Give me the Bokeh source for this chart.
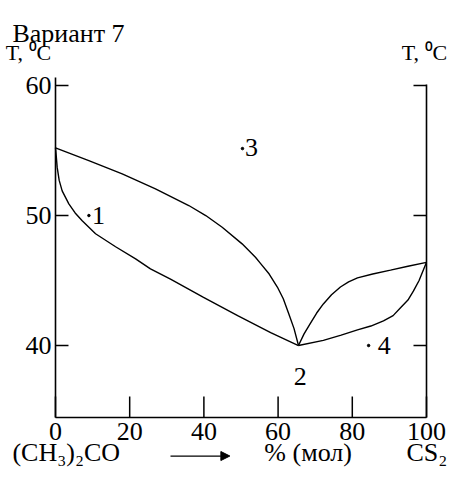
from bokeh.plotting import figure
from bokeh.models import LinearAxis, FixedTicker, Arrow, NormalHead, ColumnDataSource
from bokeh.core.properties import value
from bokeh.embed import file_html
from bokeh.resources import INLINE

FONT = "Liberation Serif"

# --- data (x: % mol CS2, T: deg C) ---
vap_left_x = [0, 8.98, 17.98, 26.95, 35.93, 40.5, 44.93, 50.3, 53.9, 55.3, 57.6, 59.8, 61.4, 62.8, 64.3, 65.5]
vap_left_t = [55.21, 54.23, 53.21, 52.05, 50.77, 50.0, 49.1, 47.82, 46.79, 46.3, 45.5, 44.5, 43.6, 42.5, 41.3, 40.0]
liq_left_x = [0, 0.2, 0.46, 1.0, 1.8, 3.6, 5.3, 7.2, 10.8, 16.2, 21.6, 25.6, 31.0, 39.9, 49.1, 58.0, 65.5]
liq_left_t = [55.21, 54.6, 53.7, 52.7, 51.9, 50.9, 50.2, 49.6, 48.6, 47.6, 46.67, 45.9, 45.1, 43.7, 42.3, 41.0, 40.0]
vap_right_x = [65.5, 67.0, 68.7, 70.4, 72.2, 74.4, 76.8, 79.0, 81.4, 85.5, 90.3, 95.0, 100]
vap_right_t = [40.0, 40.9, 41.7, 42.5, 43.2, 43.9, 44.5, 44.9, 45.2, 45.5, 45.8, 46.1, 46.4]
liq_right_x = [65.5, 72.2, 77.0, 81.4, 85.0, 88.4, 91.0, 93.0, 95.0, 96.5, 98.0, 100]
liq_right_t = [40.0, 40.4, 40.8, 41.2, 41.5, 41.9, 42.3, 42.9, 43.5, 44.2, 45.0, 46.4]

dot_x = [9.0, 50.4, 84.4]
dot_t = [50.0, 55.15, 40.0]
num_x = [11.6, 52.8, 88.6, 66.0]
num_t = [50.0, 55.2, 40.0, 37.6]
num_labels = ["1", "3", "4", "2"]

x_ticks = [0, 20, 40, 60, 80, 100]
t_ticks = [40, 50, 60]
x_min, x_max = 0, 100
t_min = 34.46

title_text = "Вариант 7"
t_axis_text = "T, ⁰C"
left_component = "(CH₃)₂CO"
axis_unit_text = "% (мол)"
right_component = "CS₂"

PX_X = 3.71   # pixels per x unit
PX_T = 13.0   # pixels per degree

# whole canvas is the plot frame; axes are fixed at data positions
p = figure(x_range=(-14.82, 105.93), y_range=(30.31, 66.54),
           frame_width=448, frame_height=471,
           min_border=0, x_axis_location=None, y_axis_location=None,
           output_backend="svg", toolbar_location=None)
p.xgrid.visible = False
p.ygrid.visible = False
p.outline_line_color = None
p.background_fill_color = "white"
p.border_fill_color = "white"

def style_axis(ax):
    ax.axis_line_width = 1.6
    ax.axis_line_color = "black"
    ax.major_tick_line_color = None
    ax.minor_tick_line_color = None
    ax.major_tick_out = 0
    ax.major_tick_in = 0
    ax.major_label_text_font = FONT
    ax.major_label_text_font_size = "26px"
    ax.major_label_text_color = "black"

ax_b = LinearAxis(ticker=FixedTicker(ticks=x_ticks), fixed_location=t_min, bounds=(x_min, x_max))
style_axis(ax_b)
ax_b.major_label_standoff = 5
p.add_layout(ax_b, "below")

ax_l = LinearAxis(ticker=FixedTicker(ticks=t_ticks), fixed_location=x_min, bounds=(t_min, 60.6))
style_axis(ax_l)
ax_l.major_label_standoff = 4
p.add_layout(ax_l, "left")

ax_r = LinearAxis(ticker=FixedTicker(ticks=t_ticks), fixed_location=x_max, bounds=(t_min, 60.05))
style_axis(ax_r)
ax_r.major_label_overrides = {40: "", 50: "", 60: ""}
p.add_layout(ax_r, "right")

# inward tick marks, placed at the axis tick values
tick_w = 1.5
len_b = 21 / PX_T
len_lr = 13 / PX_X
nb = len(x_ticks)
nt = len(t_ticks)
tick_src_b = ColumnDataSource(dict(x0=x_ticks, y0=[t_min] * nb, x1=x_ticks, y1=[t_min + len_b] * nb))
tick_src_l = ColumnDataSource(dict(x0=[x_min] * nt, y0=t_ticks, x1=[x_min + len_lr] * nt, y1=t_ticks))
tick_src_r = ColumnDataSource(dict(x0=[x_max - len_lr] * nt, y0=t_ticks, x1=[x_max] * nt, y1=t_ticks))
for s in (tick_src_b, tick_src_l, tick_src_r):
    p.segment(x0="x0", y0="y0", x1="x1", y1="y1", source=s, line_color="black", line_width=tick_w)

lw = 1.4
p.line(vap_left_x, vap_left_t, line_color="black", line_width=lw)
p.line(liq_left_x, liq_left_t, line_color="black", line_width=lw)
p.line(vap_right_x, vap_right_t, line_color="black", line_width=lw)
p.line(liq_right_x, liq_right_t, line_color="black", line_width=lw)

p.scatter(dot_x, dot_t, size=2.5, color="black")
src = ColumnDataSource(dict(x=num_x, y=num_t, t=num_labels))
p.text(x="x", y="y", text="t", source=src, text_font=value(FONT), text_font_size="26px",
       text_align="center", text_baseline="middle", text_color="black")

def lab(x, y, text, size="26px", align="left", baseline="middle"):
    p.text(x=[x], y=[y], text=[text], text_font=value(FONT), text_font_size=size,
           text_align=align, text_baseline=baseline, text_color="black")

lab(-11.6, 64.0, title_text, baseline="alphabetic")
lab(-13.4, 62.55, t_axis_text, size="22px")
lab(105.6, 62.55, t_axis_text, size="22px", align="right")
lab(-11.6, 31.75, left_component)
lab(56.3, 31.75, axis_unit_text)
lab(105.6, 31.75, right_component, align="right")
p.add_layout(Arrow(end=NormalHead(size=9, fill_color="black", line_color="black"),
                   x_start=31.0, y_start=31.5, x_end=47.0, y_end=31.5,
                   line_color="black", line_width=1.2))

open("out.html", "w").write(file_html(p, INLINE))
